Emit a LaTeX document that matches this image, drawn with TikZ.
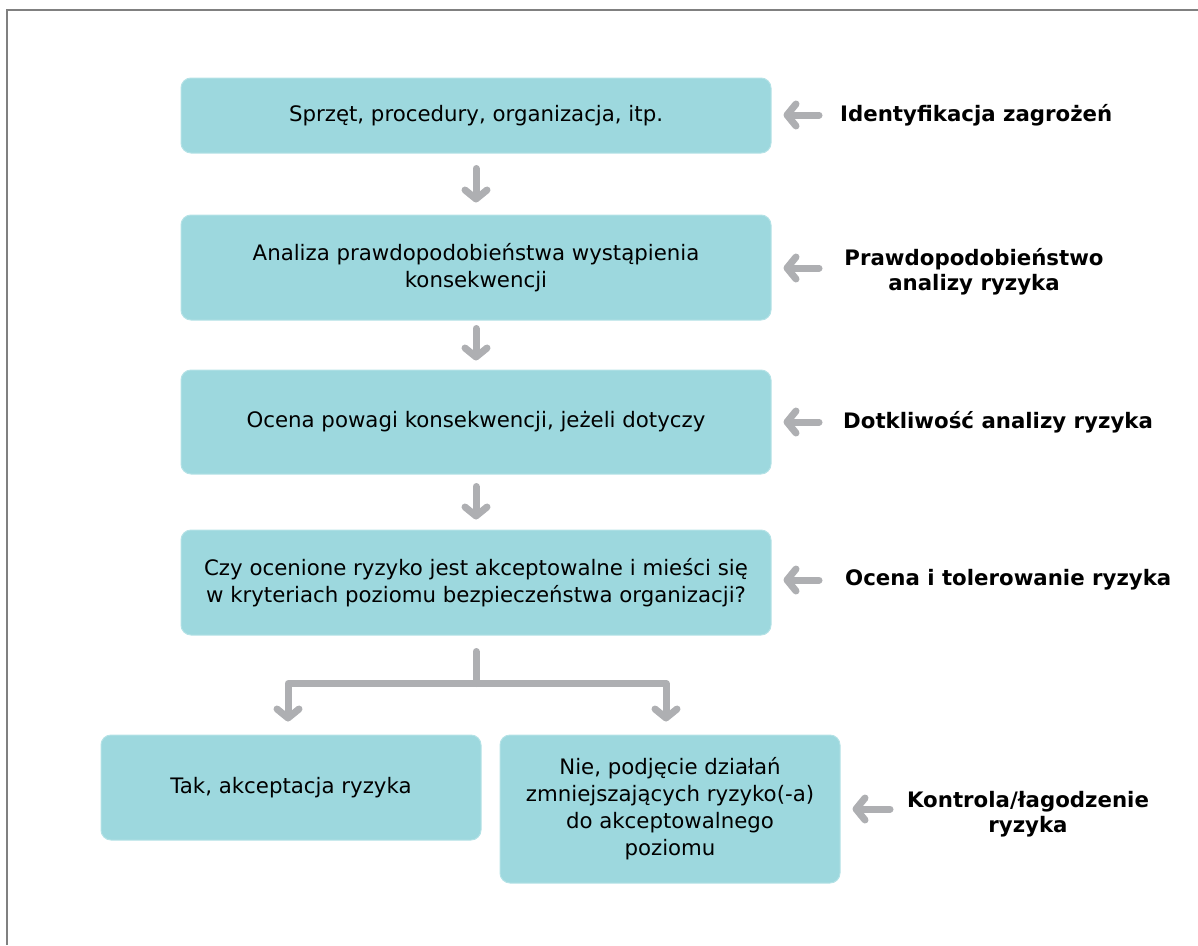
\documentclass[tikz,border=0pt]{standalone}
\usepackage{fontspec}
\setmainfont{DejaVu Sans}
\usetikzlibrary{arrows.meta}
\definecolor{boxfill}{HTML}{9DD8DE}
\definecolor{boxedge}{HTML}{B4E2E6}
\definecolor{arrowgray}{HTML}{AEAFB2}
\definecolor{framegray}{HTML}{808080}
\tikzset{
  stepbox/.style={draw=boxedge, line width=1pt, fill=boxfill, rounded corners=10pt,
    align=center, inner sep=0pt, font=\fontsize{21.3}{27}\selectfont},
  label/.style={align=center, inner sep=0pt, font=\fontsize{21.3}{25}\selectfont\bfseries},
  flow/.style={draw=arrowgray, line width=7pt, line cap=round, line join=round,
    -{Straight Barb[length=9pt, width=22pt, line cap=round, line join=round]}},
  trunk/.style={draw=arrowgray, line width=7pt, line cap=round, line join=round},
}
\begin{document}
\begin{tikzpicture}[x=1pt, y=-1pt]
  \useasboundingbox (0,0) rectangle (1198,945);
  % page frame, top and left edges
  \draw[framegray, line width=2pt] (7,945) -- (7,10) -- (1198,10);

  % process steps
  \node[stepbox, minimum width=590pt, minimum height=75pt] (b1) at (476,115.5)
    {Sprzęt, procedury, organizacja, itp.};
  \node[stepbox, minimum width=590pt, minimum height=105pt] (b2) at (476,267.5)
    {Analiza prawdopodobieństwa wystąpienia\\konsekwencji};
  \node[stepbox, minimum width=590pt, minimum height=104pt] (b3) at (476,422)
    {Ocena powagi konsekwencji, jeżeli dotyczy};
  \node[stepbox, minimum width=590pt, minimum height=105pt] (b4) at (476,582.5)
    {Czy ocenione ryzyko jest akceptowalne i mieści się\\w kryteriach poziomu bezpieczeństwa organizacji?};
  \node[stepbox, minimum width=380pt, minimum height=105pt] (b5) at (291,787.5)
    {Tak, akceptacja ryzyka};
  \node[stepbox, minimum width=340pt, minimum height=148pt] (b6) at (670,809)
    {Nie, podjęcie działań\\zmniejszających ryzyko(-a)\\do akceptowalnego\\poziomu};

  % stage labels on the right
  \node[label, anchor=west] (l1) at (840,115) {Identyfikacja zagrożeń};
  \node[label] (l2) at (974,272) {Prawdopodobieństwo\\analizy ryzyka};
  \node[label, anchor=west] (l3) at (843,422) {Dotkliwość analizy ryzyka};
  \node[label, anchor=west] (l4) at (845,580) {Ocena i tolerowanie ryzyka};
  \node[label] (l5) at (1028,814) {Kontrola/łagodzenie\\ryzyka};

  % downward flow between steps
  \draw[flow, shorten <=15pt, shorten >=12pt] (b1.south) -- (b2.north);
  \draw[flow, shorten <=8pt, shorten >=9pt] (b2.south) -- (b3.north);
  \draw[flow, shorten <=12pt, shorten >=10pt] (b3.south) -- (b4.north);

  % branch to the two outcomes
  \draw[trunk] ([yshift=-16pt]b4.south) -- ++(0,32) coordinate (j);
  \draw[flow, shorten >=13pt] (j) -| ([xshift=-3pt]b5.north);
  \draw[flow, shorten >=13pt] (j) -| ([xshift=-4pt]b6.north);

  % arrows from the labels into the steps
  \coordinate (t1) at (819,115);
  \coordinate (t2) at (819,268);
  \coordinate (t3) at (819,422);
  \coordinate (t4) at (819,580);
  \coordinate (t5) at (890,809);
  \draw[flow, shorten >=12pt] (t1) -- (b1.east |- t1);
  \draw[flow, shorten >=12pt] (t2) -- (b2.east |- t2);
  \draw[flow, shorten >=12pt] (t3) -- (b3.east |- t3);
  \draw[flow, shorten >=12pt] (t4) -- (b4.east |- t4);
  \draw[flow, shorten >=12pt] (t5) -- (b6.east |- t5);
\end{tikzpicture}
\end{document}
